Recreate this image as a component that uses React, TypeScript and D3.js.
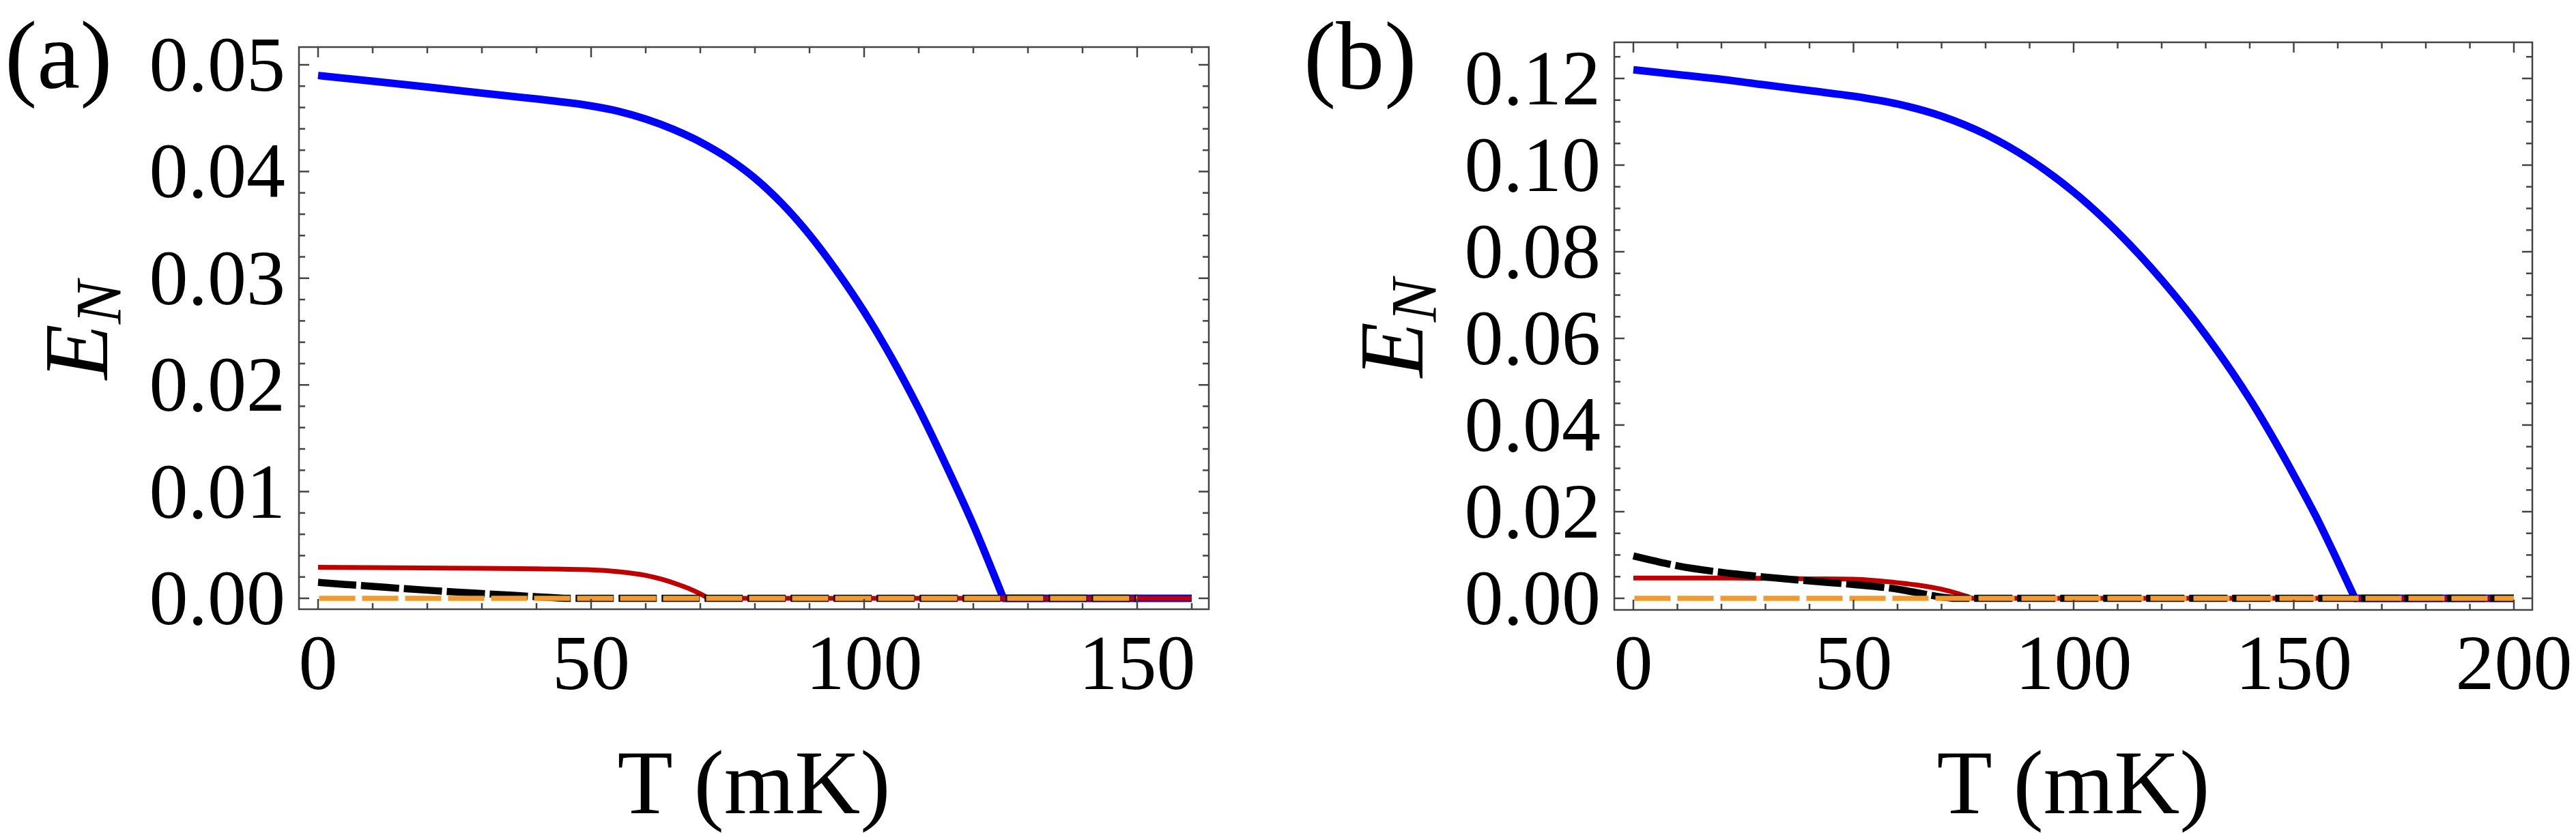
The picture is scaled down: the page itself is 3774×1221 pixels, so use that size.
import React from 'react';
import * as d3 from 'd3';

const W = 3774;
const H = 1221;

// ---------- Panel (a) data ----------
const aBlueT = [0, 10, 20, 30, 40, 45, 50, 55, 60, 65, 70, 75, 80, 85, 90, 95, 100, 105, 110, 115, 120, 125.5, 130, 140, 150, 160];
const aBlueE = [0.049, 0.04847, 0.04792, 0.04735, 0.0468, 0.0465, 0.04615, 0.04565, 0.04492, 0.04397, 0.04277, 0.04127, 0.03937, 0.03697, 0.03407, 0.03067, 0.02687, 0.02257, 0.01777, 0.01247, 0.00687, 0, 0, 0, 0, 0];
const aRedT = [0, 10, 20, 30, 40, 50, 55, 60, 63, 66, 68, 70, 71.5, 80, 100, 120, 140, 160];
const aRedE = [0.00291, 0.00288, 0.00285, 0.00281, 0.00276, 0.00267, 0.0025, 0.00215, 0.00178, 0.00128, 0.0009, 0.00042, 0, 0, 0, 0, 0, 0];
const aBlackT = [0, 5, 10, 15, 20, 25, 30, 35, 40, 45, 60, 100, 150];
const aBlackE = [0.0015, 0.0013, 0.00112, 0.00093, 0.00076, 0.0006, 0.00045, 0.0003, 0.00015, 0, 0, 0, 0];
const aOrangeT = [0, 150];
const aOrangeE = [0, 0];

const aXMajor = [0, 50, 100, 150];
const aXMinor = d3.range(0, 161, 10);
const aYMajor = [0, 0.01, 0.02, 0.03, 0.04, 0.05];
const aYMinor = d3.range(0, 0.0501, 0.002);

// ---------- Panel (b) data ----------
const bBlueT = [0, 10, 20, 30, 40, 50, 60, 70, 80, 90, 100, 110, 120, 130, 140, 150, 155, 160, 163.9, 170, 180, 190, 200];
const bBlueE = [0.122, 0.1209, 0.1198, 0.1185, 0.1172, 0.1159, 0.1141, 0.1113, 0.1071, 0.1013, 0.0938, 0.0845, 0.0735, 0.0608, 0.046, 0.0285, 0.019, 0.0085, 0, 0, 0, 0, 0];
const bRedT = [0, 10, 20, 30, 40, 50, 55, 60, 65, 70, 74, 77, 90, 120, 160, 200];
const bRedE = [0.0047, 0.0047, 0.0047, 0.0046, 0.0045, 0.0044, 0.0041, 0.0036, 0.003, 0.0021, 0.001, 0, 0, 0, 0, 0];
const bBlackT = [0, 5, 10, 20, 30, 40, 50, 60, 65, 70, 72.5, 90, 150, 200];
const bBlackE = [0.0098, 0.0086, 0.0075, 0.006, 0.0049, 0.004, 0.0032, 0.0021, 0.0012, 0.0003, 0, 0, 0, 0];
const bOrangeT = [0, 200];
const bOrangeE = [0, 0];

const bXMajor = [0, 50, 100, 150, 200];
const bXMinor = d3.range(0, 201, 10);
const bYMajor = [0, 0.02, 0.04, 0.06, 0.08, 0.1, 0.12];
const bYMinor = d3.range(0, 0.1251, 0.005);

const FONT = '"Liberation Serif", "Times New Roman", Times, serif';
const FRAME = '#444';
const BLUE = '#0000ff';
const RED = '#c00000';
const BLACK = '#000000';
const ORANGE = '#f29a2e';

type Series = { t: number[]; e: number[]; color: string; width: number; dash?: string; offset?: number };

type PanelProps = {
  id: string;
  frame: { l: number; r: number; t: number; b: number };
  xDomain: [number, number];
  xRange: [number, number];
  yDomain: [number, number];
  yRange: [number, number];
  series: Series[];
  xMajor: number[];
  xMinor: number[];
  yMajor: number[];
  yMinor: number[];
  label: string;
  labelX: number;
  labelY: number;
  yLabelX: number;
};

function Panel(p: PanelProps) {
  const x = d3.scaleLinear().domain(p.xDomain).range(p.xRange);
  const y = d3.scaleLinear().domain(p.yDomain).range(p.yRange);
  const { l, r, t, b } = p.frame;
  const majLen = 15;
  const minLen = 9;

  // smooth curve down to the first zero, then straight along zero (sharp corner as in the original)
  const pathFor = (s: Series) => {
    const pts: [number, number][] = s.t.map((tv, i) => [x(tv), y(s.e[i])]);
    let k = s.e.findIndex((v) => v === 0);
    if (k < 0) k = pts.length - 1;
    const curvePart = pts.slice(0, k + 1);
    const rest = pts.slice(k + 1);
    let d =
      curvePart.length > 1
        ? d3
            .line<[number, number]>()
            .x((q) => q[0])
            .y((q) => q[1])
            .curve(d3.curveMonotoneX)(curvePart) || ''
        : `M${curvePart[0][0]},${curvePart[0][1]}`;
    rest.forEach((q) => {
      d += `L${q[0]},${q[1]}`;
    });
    return d;
  };

  const ticks: JSX.Element[] = [];
  p.xMinor.forEach((v, i) => {
    const len = p.xMajor.some((m) => Math.abs(m - v) < 1e-9) ? majLen : minLen;
    const xx = x(v);
    ticks.push(<line key={'xb' + i} x1={xx} x2={xx} y1={b} y2={b - len} />);
    ticks.push(<line key={'xt' + i} x1={xx} x2={xx} y1={t} y2={t + len} />);
  });
  p.yMinor.forEach((v, i) => {
    const len = p.yMajor.some((m) => Math.abs(m - v) < 1e-9) ? majLen : minLen;
    const yy = y(v);
    ticks.push(<line key={'yl' + i} x1={l} x2={l + len} y1={yy} y2={yy} />);
    ticks.push(<line key={'yr' + i} x1={r} x2={r - len} y1={yy} y2={yy} />);
  });

  const cx = (l + r) / 2;
  const cy = (t + b) / 2;

  return (
    <g>
      <defs>
        <clipPath id={'clip' + p.id}>
          <rect x={l} y={t} width={r - l} height={b - t} />
        </clipPath>
      </defs>
      <g clipPath={`url(#clip${p.id})`}>
        {p.series.map((s, i) => (
          <path
            key={i}
            d={pathFor(s)}
            fill="none"
            stroke={s.color}
            strokeWidth={s.width}
            strokeDasharray={s.dash}
            strokeDashoffset={s.offset}
            strokeLinecap="butt"
            strokeLinejoin="round"
          />
        ))}
      </g>
      <g stroke={FRAME} strokeWidth={2.5}>{ticks}</g>
      <rect x={l} y={t} width={r - l} height={b - t} fill="none" stroke={FRAME} strokeWidth={2.5} />
      <g fontFamily={FONT} fontSize={114} fill="#000">
        {p.xMajor.map((v) => (
          <text key={'xl' + v} x={x(v)} y={1010} textAnchor="middle">
            {String(v)}
          </text>
        ))}
        {p.yMajor.map((v) => (
          <text key={'yl' + v} x={l - 20} y={y(v) + 38} textAnchor="end">
            {v.toFixed(2)}
          </text>
        ))}
      </g>
      <text x={cx} y={1192} textAnchor="middle" fontFamily={FONT} fontSize={133} fill="#000">
        T (mK)
      </text>
      <text
        transform={`translate(${p.yLabelX},${cy + 3}) rotate(-90)`}
        textAnchor="middle"
        fontFamily={FONT}
        fontSize={133}
        fontStyle="italic"
        fill="#000"
      >
        E
        <tspan fontSize={95} dy={20}>
          N
        </tspan>
      </text>
      <text x={p.labelX} y={p.labelY} fontFamily={FONT} fontSize={142} fill="#000">
        {p.label}
      </text>
    </g>
  );
}

export default function App() {
  const seriesA: Series[] = [
    { t: aBlueT, e: aBlueE, color: BLUE, width: 11 },
    { t: aRedT, e: aRedE, color: RED, width: 7 },
    { t: aBlackT, e: aBlackE, color: BLACK, width: 10.5, dash: '56 7' },
    { t: aOrangeT, e: aOrangeE, color: ORANGE, width: 7.5, dash: '53 10', offset: -1.5 },
  ];
  const seriesB: Series[] = [
    { t: bBlueT, e: bBlueE, color: BLUE, width: 11 },
    { t: bRedT, e: bRedE, color: RED, width: 7 },
    { t: bBlackT, e: bBlackE, color: BLACK, width: 10.5, dash: '56 7' },
    { t: bOrangeT, e: bOrangeE, color: ORANGE, width: 7.5, dash: '53 10', offset: -1.5 },
  ];
  return (
    <div style={{ position: 'absolute', left: 0, top: 0, width: W, height: H, background: '#fff' }}>
      <svg width={W} height={H} viewBox={`0 0 ${W} ${H}`} style={{ display: 'block', background: '#fff' }}>
        <Panel
          id="a"
          frame={{ l: 438, r: 1771, t: 69, b: 893 }}
          xDomain={[0, 150]}
          xRange={[466, 1666]}
          yDomain={[0, 0.05]}
          yRange={[877, 95]}
          series={seriesA}
          xMajor={aXMajor}
          xMinor={aXMinor}
          yMajor={aYMajor}
          yMinor={aYMinor}
          label="(a)"
          labelX={7}
          labelY={129}
          yLabelX={157}
        />
        <Panel
          id="b"
          frame={{ l: 2365, r: 3710, t: 62, b: 894 }}
          xDomain={[0, 200]}
          xRange={[2393, 3683]}
          yDomain={[0, 0.12]}
          yRange={[877, 115]}
          series={seriesB}
          xMajor={bXMajor}
          xMinor={bXMinor}
          yMajor={bYMajor}
          yMinor={bYMinor}
          label="(b)"
          labelX={1910}
          labelY={130}
          yLabelX={2084}
        />
      </svg>
    </div>
  );
}
